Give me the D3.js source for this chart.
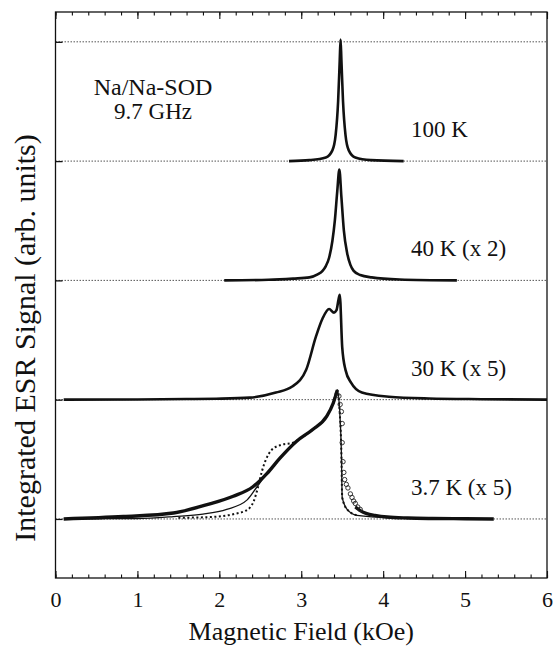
<!DOCTYPE html>
<html>
<head>
<meta charset="utf-8">
<script src="https://cdn.jsdelivr.net/npm/d3@7"></script>
<style>
  body { margin: 0; background: #fff; }
</style>
</head>
<body>
<svg id="chart" width="555" height="648"></svg>
<script>
// values: field in kOe, signal in offset units (1 unit = one trace spacing)
let xMajor = [0, 1, 2, 3, 4, 5, 6];
let baseLevels = [0, 1, 2, 3, 4];

let traceLabels = ["100 K", "40 K (x 2)", "30 K (x 5)", "3.7 K (x 5)"];
let traceOffsets = [3, 2, 1, 0];

let field100 = [2.85, 3.1, 3.3, 3.38, 3.42, 3.45, 3.47, 3.48, 3.49, 3.51, 3.54, 3.58, 3.66, 3.85, 4.25];
let sig100 = [0, 0.008, 0.03, 0.09, 0.22, 0.5, 0.85, 1.02, 0.85, 0.5, 0.22, 0.09, 0.03, 0.008, 0];

let field40 = [2.06, 2.6, 2.9, 3.1, 3.2, 3.26, 3.30, 3.34, 3.38, 3.41, 3.44, 3.465, 3.49, 3.52, 3.56, 3.60, 3.64, 3.72, 3.86, 4.2, 4.9];
let sig40 = [0, 0.005, 0.015, 0.025, 0.05, 0.08, 0.12, 0.19, 0.33, 0.5, 0.75, 0.93, 0.7, 0.42, 0.23, 0.13, 0.08, 0.045, 0.025, 0.008, 0];

let field30 = [0.1, 1.0, 1.6, 1.96, 2.37, 2.69, 2.89, 3.06, 3.18, 3.26, 3.34, 3.40, 3.43, 3.455, 3.47, 3.50, 3.54, 3.61, 3.74, 4.07, 4.56, 5.2, 6.0];
let sig30 = [0, 0.002, 0.005, 0.008, 0.017, 0.06, 0.11, 0.25, 0.53, 0.68, 0.76, 0.73, 0.75, 0.84, 0.88, 0.44, 0.25, 0.14, 0.06, 0.025, 0.01, 0.004, 0];

// 3.7 K data: dense low-field part (reads as a thick trace), open circles on the drop, thick tail
let field37 = [0.1, 0.83, 1.44, 1.85, 2.17, 2.41, 2.58, 2.74, 2.94, 3.14, 3.31, 3.39, 3.44];
let sig37 = [0, 0.02, 0.05, 0.12, 0.19, 0.27, 0.38, 0.51, 0.65, 0.75, 0.86, 0.97, 1.08];
let field37drop = [3.46, 3.475, 3.49, 3.5, 3.5, 3.51, 3.52, 3.53, 3.55, 3.57, 3.6, 3.62, 3.64, 3.66, 3.69, 3.72];
let sig37drop = [1.03, 0.96, 0.9, 0.8, 0.64, 0.48, 0.39, 0.33, 0.29, 0.26, 0.21, 0.18, 0.15, 0.13, 0.1, 0.08];
let field37tail = [3.66, 3.72, 3.8, 3.9, 4.05, 4.3, 4.6, 5.0, 5.35];
let sig37tail = [0.1, 0.07, 0.045, 0.03, 0.016, 0.008, 0.004, 0.002, 0];

// 3.7 K fits
let fieldFitA = [0.1, 1.0, 1.44, 1.8, 2.09, 2.34, 2.46, 2.58, 2.74, 2.94, 3.14, 3.31, 3.39, 3.44, 3.47, 3.49, 3.50, 3.56, 3.68, 4.08, 5.3];
let sigFitA = [0, 0.004, 0.02, 0.04, 0.08, 0.16, 0.27, 0.38, 0.51, 0.65, 0.75, 0.86, 0.97, 1.08, 0.89, 0.55, 0.18, 0.08, 0.03, 0.01, 0];
let fieldFitB = [1.5, 1.85, 2.17, 2.35, 2.42, 2.47, 2.52, 2.57, 2.64, 2.75, 2.9, 3.0, 3.14, 3.31, 3.39, 3.44, 3.47, 3.49, 3.50, 3.56, 3.68];
let sigFitB = [0.01, 0.015, 0.04, 0.08, 0.15, 0.26, 0.4, 0.5, 0.58, 0.62, 0.64, 0.68, 0.75, 0.86, 0.97, 1.08, 0.89, 0.55, 0.18, 0.08, 0.03];

let serif = "'Liberation Serif', 'Times New Roman', Times, 'DejaVu Serif', serif";

let svg = d3.select("#chart");
let pLeft = 55.5, pRight = 547, pTop = 12, pBottom = 578;

let x = d3.scaleLinear().domain([0, 6]).range([pLeft, pRight]);
let y = d3.scaleLinear().domain([-0.495, 4.25]).range([pBottom, pTop]);

function pts(fs, vs, off) {
    return fs.map(function (f, i) { return [f, vs[i] + off]; });
}

let line = d3.line()
    .x(function (d) { return x(d[0]); })
    .y(function (d) { return y(d[1]); })
    .curve(d3.curveMonotoneX);

// dotted baselines
svg.append("g").selectAll("line")
    .data(baseLevels)
    .join("line")
    .attr("x1", pLeft).attr("x2", pRight)
    .attr("y1", function (d) { return y(d); })
    .attr("y2", function (d) { return y(d); })
    .attr("stroke", "#555")
    .attr("stroke-width", 1)
    .attr("stroke-dasharray", "1.5,1.5");

// traces
let traces = [
    pts(field100, sig100, 3),
    pts(field40, sig40, 2),
    pts(field30, sig30, 1)
];
svg.append("g").selectAll("path")
    .data(traces)
    .join("path")
    .attr("d", line)
    .attr("fill", "none")
    .attr("stroke", "#111")
    .attr("stroke-width", 2.6);

svg.append("g").selectAll("path")
    .data([pts(field37, sig37, 0), pts(field37tail, sig37tail, 0)])
    .join("path")
    .attr("d", line)
    .attr("fill", "none")
    .attr("stroke", "#111")
    .attr("stroke-width", 3.4);

// 3.7 K fits
svg.append("path")
    .attr("d", line(pts(fieldFitA, sigFitA, 0)))
    .attr("fill", "none")
    .attr("stroke", "#111")
    .attr("stroke-width", 1.3);
svg.append("path")
    .attr("d", line(pts(fieldFitB, sigFitB, 0)))
    .attr("fill", "none")
    .attr("stroke", "#111")
    .attr("stroke-width", 2)
    .attr("stroke-dasharray", "2,2.5");

// 3.7 K data circles on the high-field side
svg.append("g").selectAll("circle")
    .data(pts(field37drop, sig37drop, 0))
    .join("circle")
    .attr("cx", function (d) { return x(d[0]); })
    .attr("cy", function (d) { return y(d[1]); })
    .attr("r", 2.2)
    .attr("fill", "none")
    .attr("stroke", "#222")
    .attr("stroke-width", 0.9);

// frame
svg.append("rect")
    .attr("x", pLeft).attr("y", pTop)
    .attr("width", pRight - pLeft).attr("height", pBottom - pTop)
    .attr("fill", "none")
    .attr("stroke", "#111")
    .attr("stroke-width", 1.3);

// ticks, pointing inside
let minorVals = d3.range(0, 31).map(function (i) { return i / 5; });
function tickAxis(axis, ty, size, vals) {
    let g = svg.append("g")
        .attr("transform", "translate(0," + ty + ")")
        .call(axis(x).tickValues(vals).tickSize(size).tickFormat(""));
    g.select(".domain").remove();
    g.selectAll("line").attr("stroke", "#111").attr("stroke-width", 1.1);
}
tickAxis(d3.axisBottom, pBottom, -3.5, minorVals);
tickAxis(d3.axisBottom, pBottom, -7, xMajor);
tickAxis(d3.axisTop, pTop, -3.5, minorVals);
tickAxis(d3.axisTop, pTop, -7, xMajor);

let yAxis = svg.append("g")
    .attr("transform", "translate(" + pLeft + ",0)")
    .call(d3.axisLeft(y).tickValues(baseLevels).tickSize(-7).tickFormat(""));
yAxis.select(".domain").remove();
yAxis.selectAll("line").attr("stroke", "#111").attr("stroke-width", 1.3);

// x tick labels
let xLab = svg.append("g")
    .attr("transform", "translate(0," + pBottom + ")")
    .call(d3.axisBottom(x).tickValues(xMajor).tickSize(0).tickPadding(13).tickFormat(d3.format("d")));
xLab.select(".domain").remove();
xLab.attr("font-family", null).attr("font-size", null);
xLab.selectAll("text")
    .style("font-family", serif)
    .style("font-size", "22px")
    .attr("fill", "#111");

function label(t, px) {
    return svg.append("text")
        .style("font-family", serif)
        .style("font-size", px + "px")
        .attr("fill", "#111")
        .text(t);
}

// axis titles
label("Magnetic Field (kOe)", 26)
    .attr("x", (pLeft + pRight) / 2)
    .attr("y", 640)
    .attr("text-anchor", "middle");

label("Integrated ESR Signal (arb. units)", 30)
    .attr("transform", "rotate(-90)")
    .attr("x", -338)
    .attr("y", 35)
    .attr("text-anchor", "middle");

// sample label
label("Na/Na-SOD", 24).attr("x", 153).attr("y", 95).attr("text-anchor", "middle");
label("9.7 GHz", 23).attr("x", 153).attr("y", 119).attr("text-anchor", "middle");

// temperature labels, placed relative to each baseline
traceLabels.forEach(function (t, i) {
    label(t, 23).attr("x", 411).attr("y", y(traceOffsets[i]) - 24);
});
</script>
</body>
</html>
